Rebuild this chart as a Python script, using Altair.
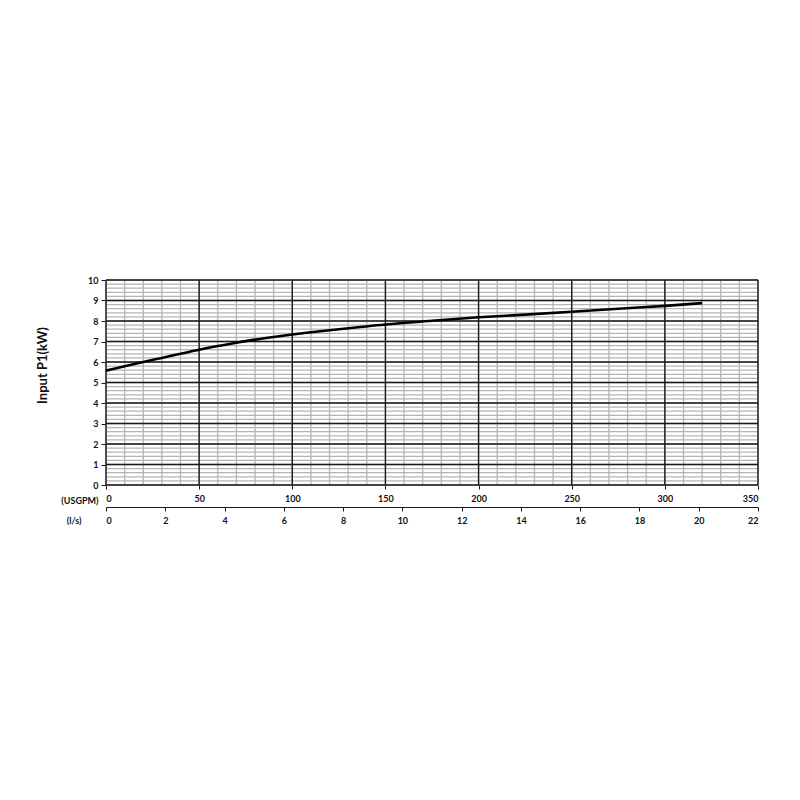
import altair as alt
import pandas as pd

# Curve data
flow_usgpm = [0, 10, 20, 30, 40, 50, 60, 70, 80, 90, 100, 110, 125, 150, 175, 200, 225, 250, 275, 300, 320]
power_kw = [5.58, 5.79, 6.00, 6.20, 6.40, 6.60, 6.78, 6.94, 7.09, 7.22, 7.34, 7.45, 7.60, 7.83, 8.01, 8.18, 8.31, 8.45, 8.60, 8.74, 8.87]

# Axis / grid values
x_major = list(range(0, 351, 50))
x_minor = list(range(0, 351, 10))
y_major = list(range(0, 11, 1))
y_minor = [round(i * 0.2, 1) for i in range(0, 51)]
ls_ticks = list(range(0, 23, 2))

FONT = "Lato"
W, H = 652, 205

xs = alt.Scale(domain=[0, 350], nice=False, zero=False)
ys = alt.Scale(domain=[0, 10], nice=False, zero=False)

x_axis = alt.Axis(
    values=x_major, grid=False, domain=False, ticks=True, tickSize=4, tickColor="#1a1a1a",
    labelFont=FONT, labelFontWeight="bold", labelFontSize=9, labelColor="#111",
    labelPadding=5, labelBaseline="top",
    title="(USGPM)", titleFont=FONT, titleFontWeight="bold", titleFontSize=9, titleColor="#111",
    titleAngle=0, titleAlign="right", titleBaseline="middle", titleX=-8, titleY=15)
y_axis = alt.Axis(
    values=y_major, grid=False, domain=False, ticks=True, tickSize=5, tickColor="#1a1a1a",
    labelFont=FONT, labelFontWeight="bold", labelFontSize=9, labelColor="#111", labelPadding=3,
    title="Input P1(kW)", titleFont=FONT, titleFontWeight="bold", titleFontSize=13, titleColor="#111",
    titleBaseline="middle", titleX=-64, titleY=85)

df_curve = pd.DataFrame({"q": flow_usgpm, "p": power_kw})
df_xmin = pd.DataFrame({"q": x_minor})
df_ymin = pd.DataFrame({"p": y_minor})
df_xmaj = pd.DataFrame({"q": x_major})
df_ymaj = pd.DataFrame({"p": y_major})
df_ls = pd.DataFrame({"ls": ls_ticks})

xmin_rules = alt.Chart(df_xmin).mark_rule(color="#b4b4b4", strokeWidth=1.3).encode(
    x=alt.X("q:Q", scale=xs, axis=x_axis))
ymin_rules = alt.Chart(df_ymin).mark_rule(color="#b4b4b4", strokeWidth=1.3).encode(
    y=alt.Y("p:Q", scale=ys, axis=y_axis))
xmaj_rules = alt.Chart(df_xmaj).mark_rule(color="#1a1a1a", strokeWidth=1.4).encode(
    x=alt.X("q:Q", scale=xs, axis=x_axis))
ymaj_rules = alt.Chart(df_ymaj).mark_rule(color="#1a1a1a", strokeWidth=1.4).encode(
    y=alt.Y("p:Q", scale=ys, axis=y_axis))

curve = alt.Chart(df_curve).mark_line(color="black", strokeWidth=2.6, interpolate="monotone").encode(
    x=alt.X("q:Q", scale=xs, axis=x_axis),
    y=alt.Y("p:Q", scale=ys, axis=y_axis),
)

main = alt.layer(xmin_rules, ymin_rules, xmaj_rules, ymaj_rules, curve)

ls_layer = alt.Chart(df_ls).mark_point(opacity=0).encode(
    x=alt.X("ls:Q", scale=alt.Scale(domain=[0, 22], nice=False, zero=False), axis=alt.Axis(
        orient="bottom", offset=22, values=ls_ticks, grid=False, domain=True, domainColor="#1a1a1a",
        domainWidth=1, ticks=True, tickSize=4, tickColor="#1a1a1a",
        labelFont=FONT, labelFontWeight="bold", labelFontSize=9, labelColor="#111",
        labelPadding=5, labelBaseline="top",
        title="(l/s)", titleFont=FONT, titleFontWeight="bold", titleFontSize=9, titleColor="#111",
        titleAngle=0, titleAlign="right", titleBaseline="middle", titleX=-25, titleY=13)),
)

chart = alt.layer(main, ls_layer).resolve_scale(x="independent").properties(
    width=W, height=H,
    autosize=alt.AutoSizeParams(type="none"),
    padding={"left": 98, "top": 272, "right": 20, "bottom": 40},
).configure_view(stroke=None).configure(background="white")

chart.save("out.html", embed_options={"renderer": "svg", "actions": False})
